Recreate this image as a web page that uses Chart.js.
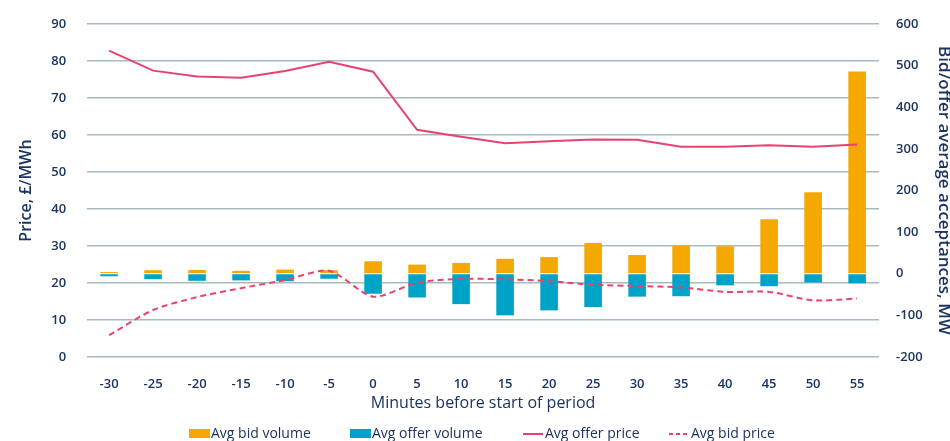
<!DOCTYPE html>
<html>
<head>
<meta charset="utf-8">
<script src="https://cdn.jsdelivr.net/npm/chart.js@4"></script>
<style>
  html, body { margin: 0; padding: 0; background: #ffffff; }
  #wrap { width: 950px; height: 441px; }
</style>
</head>
<body>
<div id="wrap"><canvas id="chart"></canvas></div>
<script>
// minutes before start of period
const minutes = ["-30", "-25", "-20", "-15", "-10", "-5", "0", "5", "10", "15", "20", "25", "30", "35", "40", "45", "50", "55"];

// volumes, MW (right axis)
const bidVolume = [4, 8.5, 9, 7, 10, 8.5, 30, 22, 26, 36, 40, 74, 45, 67, 66, 131, 196, 486];
const offerVolume = [-6, -13, -17, -16, -18, -12, -48, -57, -73, -100, -88, -80, -55, -54, -28, -30, -21, -23];

// prices, £/MWh (left axis)
const offerPrice = [82.8, 77.4, 75.8, 75.5, 77.3, 79.8, 77.1, 61.4, 59.5, 57.8, 58.3, 58.8, 58.7, 56.8, 56.8, 57.2, 56.8, 57.4];
const bidPrice = [5.9, 12.7, 16.2, 18.6, 20.8, 23.3, 16.3, 20.1, 21.1, 21.0, 20.5, 19.5, 19.2, 18.8, 17.6, 17.6, 15.3, 15.8];

// where each legend entry starts (x) and its row (y centre)
const legendX = [189, 350, 523, 669];
const legendY = 434;

const navy = "#1B3560";
const orange = "#F5A800";
const blue = "#00A3C8";
const red = "#E8436E";
const gridColour = "#A7BABE";
const fontFamily = "'Open Sans', 'Noto Sans', sans-serif";

Chart.defaults.font.family = fontFamily;
Chart.defaults.color = navy;

// legend spread out as in the original layout
const spreadLegend = {
    id: "spreadLegend",
    afterDraw(chart) {
        const ctx = chart.ctx;
        ctx.save();
        ctx.font = "500 14px " + fontFamily;
        ctx.textBaseline = "middle";
        chart.data.datasets.forEach((ds, i) => {
            const x = legendX[i];
            if (ds.type === "line") {
                ctx.strokeStyle = ds.borderColor;
                ctx.lineWidth = 2;
                ctx.setLineDash(ds.borderDash ? [4, 3] : []);
                ctx.beginPath();
                ctx.moveTo(x, legendY);
                ctx.lineTo(x + 20, legendY);
                ctx.stroke();
                ctx.setLineDash([]);
            } else {
                ctx.fillStyle = ds.backgroundColor;
                ctx.fillRect(x, legendY - 5, 21, 9);
            }
            ctx.fillStyle = navy;
            ctx.textAlign = "left";
            ctx.fillText(ds.label, x + 22, legendY);
        });
        ctx.restore();
    }
};

new Chart(
    document.getElementById("chart"),
    {
        type: "bar",
        data: {
            labels: minutes,
            datasets: [
                {
                    label: "Avg bid volume",
                    data: bidVolume,
                    backgroundColor: orange,
                    yAxisID: "y1",
                    stack: "vol",
                    barPercentage: 0.4,
                    categoryPercentage: 1,
                    order: 2
                },
                {
                    label: "Avg offer volume",
                    data: offerVolume,
                    backgroundColor: blue,
                    yAxisID: "y1",
                    stack: "vol",
                    barPercentage: 0.4,
                    categoryPercentage: 1,
                    order: 2
                },
                {
                    type: "line",
                    label: "Avg offer price",
                    data: offerPrice,
                    borderColor: red,
                    backgroundColor: red,
                    borderWidth: 2,
                    pointRadius: 0,
                    tension: 0,
                    yAxisID: "y",
                    order: 1
                },
                {
                    type: "line",
                    label: "Avg bid price",
                    data: bidPrice,
                    borderColor: red,
                    backgroundColor: red,
                    borderWidth: 2,
                    borderDash: [6, 4],
                    pointRadius: 0,
                    tension: 0.25,
                    yAxisID: "y",
                    order: 1
                }
            ]
        },
        options: {
            responsive: true,
            maintainAspectRatio: false,
            animation: false,
            layout: {
                padding: { top: 24, left: 17, right: -4, bottom: 28 }
            },
            plugins: {
                tooltip: { enabled: false },
                legend: { display: false }
            },
            scales: {
                x: {
                    grid: { display: false, drawTicks: false },
                    border: { display: false },
                    ticks: {
                        font: { size: 13, weight: "600" },
                        color: navy,
                        padding: 19,
                        maxRotation: 0
                    },
                    title: {
                        display: true,
                        text: "Minutes before start of period",
                        font: { size: 16, weight: "500" },
                        color: navy,
                        padding: { top: 2, bottom: 0 }
                    },
                    afterFit(scale) {
                        scale.height = 56;
                    }
                },
                y: {
                    position: "left",
                    min: 0,
                    max: 90,
                    ticks: {
                        stepSize: 10,
                        font: { size: 13, weight: "600" },
                        color: navy,
                        padding: 13
                    },
                    grid: {
                        color: gridColour,
                        lineWidth: 1.5,
                        drawTicks: true,
                        tickLength: 8,
                        tickColor: "rgba(0,0,0,0)"
                    },
                    border: { display: false },
                    title: {
                        display: true,
                        text: "Price, £/MWh",
                        font: { size: 16, weight: "600" },
                        color: navy,
                        padding: { top: 0, bottom: 2 }
                    }
                },
                y1: {
                    position: "right",
                    min: -200,
                    max: 600,
                    ticks: {
                        stepSize: 100,
                        font: { size: 13, weight: "600" },
                        color: navy,
                        padding: 11
                    },
                    grid: {
                        display: true,
                        drawOnChartArea: false,
                        drawTicks: true,
                        tickLength: 6,
                        tickColor: "rgba(0,0,0,0)"
                    },
                    border: { display: false },
                    title: {
                        display: true,
                        text: "Bid/offer average acceptances, MW",
                        font: { size: 17, weight: "600" },
                        color: navy,
                        padding: { top: 0, bottom: 0 }
                    }
                }
            }
        },
        plugins: [spreadLegend]
    }
);
</script>
</body>
</html>
